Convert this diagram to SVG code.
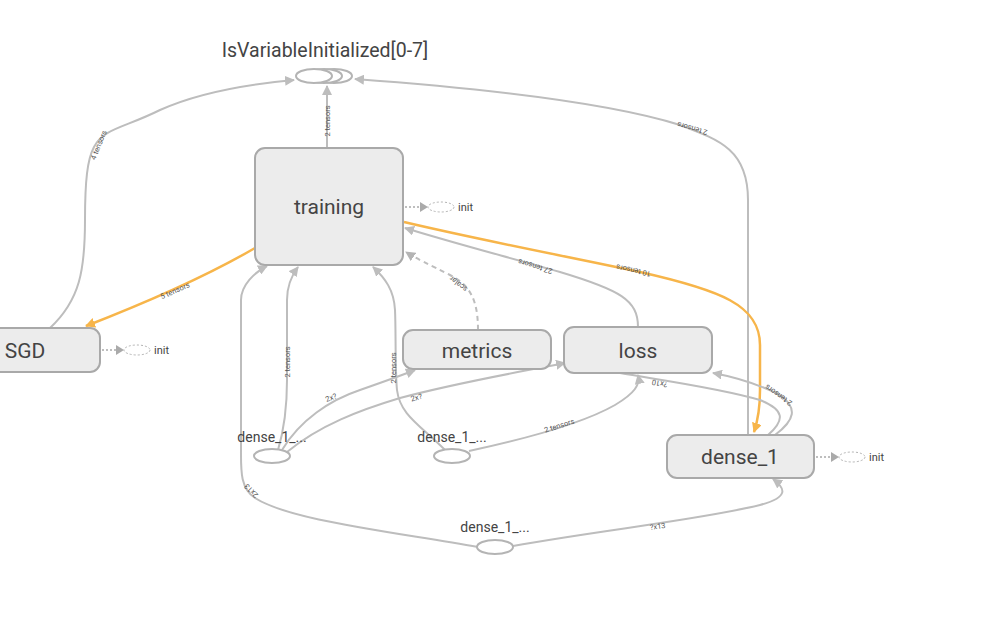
<svg xmlns="http://www.w3.org/2000/svg" width="990" height="639" viewBox="0 0 990 639">
  <style>
    .node rect { fill: #ececec; stroke: #a9a9a9; stroke-width: 2; }
    .title { font-family: Roboto, "Liberation Sans", sans-serif; font-size: 21px; fill: #444; text-anchor: middle; }
    .series { font-family: Roboto, "Liberation Sans", sans-serif; font-size: 19.5px; fill: #444; text-anchor: middle; }
    .small { font-family: Roboto, "Liberation Sans", sans-serif; font-size: 14px; fill: #444; text-anchor: middle; }
    .init { font-family: Roboto, "Liberation Sans", sans-serif; font-size: 11px; fill: #444; }
    .op { fill: #fff; stroke: #b4b4b4; stroke-width: 2; }
    .initop { fill: none; stroke: #b4b4b4; stroke-width: 1; stroke-dasharray: 2 2; }
    .dot { fill: none; stroke: #a9a9a9; stroke-width: 1.5; stroke-dasharray: 2 2; }
    .edge { fill: none; stroke: #bdbdbd; stroke-width: 2; }
    .ref { fill: none; stroke: #f7b54a; stroke-width: 2.5; }
    .ctl { fill: none; stroke: #bdbdbd; stroke-width: 2; stroke-dasharray: 5 4; }
    .lbl { font-family: Roboto, "Liberation Sans", sans-serif; font-size: 7.5px; fill: #555; text-anchor: middle; }
  </style>
  <defs>
    <marker id="arr" viewBox="0 0 10 10" refX="9" refY="5" markerWidth="5" markerHeight="5" markerUnits="strokeWidth" orient="auto">
      <path d="M0,0 L10,5 L0,10 z" fill="#bdbdbd"/>
    </marker>
    <marker id="arrO" viewBox="0 0 10 10" refX="9" refY="5" markerWidth="4" markerHeight="4" markerUnits="strokeWidth" orient="auto">
      <path d="M0,0 L10,5 L0,10 z" fill="#f7b54a"/>
    </marker>
    <marker id="arrS" viewBox="0 0 10 10" refX="9" refY="5" markerWidth="5" markerHeight="5" markerUnits="strokeWidth" orient="auto">
      <path d="M0,0 L10,5 L0,10 z" fill="#b4b4b4"/>
    </marker>
  </defs>

  <!-- connectors -->
  <g id="edges">
    <!-- SGD -> IsVariableInitialized -->
    <path class="edge" marker-end="url(#arr)" d="M50,328 C80,300 85,270 85,220 C85,120 100,140 160,110 C200,92 250,84 294,80"/>
    <!-- training -> IsVariableInitialized -->
    <path class="edge" marker-end="url(#arr)" d="M327,148 L327,86"/>
    <!-- dense_1 -> IsVariableInitialized -->
    <path class="edge" marker-end="url(#arr)" d="M748,435 L748,200 C748,150 720,140 680,125 C600,100 450,86 355,79"/>
    <!-- training -> SGD (reference) -->
    <path class="ref" marker-end="url(#arrO)" d="M255,248 C200,280 140,305 86,326"/>
    <!-- training -> dense_1 (reference) -->
    <path class="ref" marker-end="url(#arrO)" d="M404,222 C480,240 560,255 640,272 C720,290 760,305 760,345 L760,390 C760,410 758,420 754,432"/>
    <!-- loss -> training -->
    <path class="edge" marker-end="url(#arr)" d="M638,327 C638,300 620,290 560,272 C500,255 450,242 405,228"/>
    <!-- metrics -> training (control) -->
    <path class="ctl" marker-end="url(#arrS)" d="M478,330 C478,300 470,285 450,275 C430,265 415,258 406,252"/>
    <!-- dense_1_... (bottom) -> training -->
    <path class="edge" marker-end="url(#arr)" d="M478,547 C380,530 290,520 255,498 C240,488 241,470 241,450 L241,300 C241,285 255,272 267,266"/>
    <!-- dense_1_... (left) -> training -->
    <path class="edge" marker-end="url(#arr)" d="M278,450 C284,430 287,410 287,380 L287,300 C287,285 292,275 298,267"/>
    <!-- dense_1_... (middle) -> training -->
    <path class="edge" marker-end="url(#arr)" d="M445,450 C420,425 400,415 397,390 C395,370 396,330 395,310 C394,290 385,278 373,267"/>
    <!-- dense_1_... (left) -> metrics -->
    <path class="edge" marker-end="url(#arr)" d="M282,450 C300,420 330,400 360,390 C380,383 400,376 415,370"/>
    <!-- dense_1_... (left) -> loss -->
    <path class="edge" marker-end="url(#arr)" d="M287,452 C320,425 360,410 400,398 C460,382 520,372 565,363"/>
    <!-- dense_1_... (middle) -> loss -->
    <path class="edge" marker-end="url(#arr)" d="M469,451 C520,440 580,425 615,405 C635,393 640,385 638,375"/>
    <!-- loss -> dense_1 -->
    <path class="edge" d="M620,373 C660,380 720,388 760,400 C785,410 785,420 768,435"/>
    <!-- dense_1 -> loss -->
    <path class="edge" marker-end="url(#arr)" d="M775,435 C795,420 798,408 780,395 C760,385 740,378 713,373"/>
    <!-- dense_1_... (bottom) -> dense_1 -->
    <path class="edge" marker-end="url(#arr)" d="M513,546 C600,530 700,520 760,505 C790,497 785,488 773,479"/>

    <!-- edge labels -->
    <text class="lbl" transform="translate(101,146) rotate(-68)">4 tensors</text>
    <text class="lbl" transform="translate(330,121) rotate(-90)">2 tensors</text>
    <text class="lbl" transform="translate(693,126) rotate(196)">2 tensors</text>
    <text class="lbl" transform="translate(176,293) rotate(-24)">5 tensors</text>
    <text class="lbl" transform="translate(634,268) rotate(192)">10 tensors</text>
    <text class="lbl" transform="translate(536,264) rotate(197)">27 tensors</text>
    <text class="lbl" transform="translate(460,282) rotate(218)">scalar</text>
    <text class="lbl" transform="translate(290,362) rotate(-90)">2 tensors</text>
    <text class="lbl" transform="translate(396,368) rotate(-90)">2 tensors</text>
    <text class="lbl" transform="translate(332,400) rotate(-20)">2x?</text>
    <text class="lbl" transform="translate(417,400) rotate(-15)">2x?</text>
    <text class="lbl" transform="translate(560,428) rotate(-18)">2 tensors</text>
    <text class="lbl" transform="translate(660,381) rotate(190)">?x10</text>
    <text class="lbl" transform="translate(780,393) rotate(215)">2 tensors</text>
    <text class="lbl" transform="translate(658,529) rotate(-8)">?x13</text>
    <text class="lbl" transform="translate(253,489) rotate(225)">2x13</text>
  </g>

  <!-- IsVariableInitialized[0-7] (series of 8) -->
  <g id="isvarinit">
    <ellipse class="op" cx="334" cy="76" rx="18" ry="7"/>
    <ellipse class="op" cx="324" cy="76" rx="18" ry="7"/>
    <ellipse class="op" cx="314" cy="76" rx="18" ry="7"/>
    <text class="series" x="325" y="57">IsVariableInitialized[0-7]</text>
  </g>

  <g id="training" class="node">
    <rect x="255" y="148" width="148" height="117" rx="10"/>
    <text class="title" x="329" y="214">training</text>
    <path class="dot" d="M405,207 L420,207"/>
    <path d="M420,202 L428,207 L420,212 z" fill="#aaa"/>
    <ellipse class="initop" cx="441" cy="207" rx="13" ry="5"/>
    <text class="init" x="458" y="211">init</text>
  </g>

  <g id="sgd" class="node">
    <rect x="-12" y="328" width="112" height="44" rx="10"/>
    <text class="title" x="25" y="358">SGD</text>
    <path class="dot" d="M102,350 L116,350"/>
    <path d="M116,345 L124,350 L116,355 z" fill="#aaa"/>
    <ellipse class="initop" cx="137" cy="350" rx="13" ry="5"/>
    <text class="init" x="154" y="354">init</text>
  </g>

  <g id="metrics" class="node">
    <rect x="403" y="330" width="148" height="39" rx="10"/>
    <text class="title" x="477" y="358">metrics</text>
  </g>

  <g id="loss" class="node">
    <rect x="564" y="327" width="148" height="46" rx="10"/>
    <text class="title" x="638" y="358">loss</text>
  </g>

  <g id="dense_1" class="node">
    <rect x="667" y="435" width="147" height="43" rx="10"/>
    <text class="title" x="740" y="464">dense_1</text>
    <path class="dot" d="M816,457 L831,457"/>
    <path d="M831,452 L839,457 L831,462 z" fill="#aaa"/>
    <ellipse class="initop" cx="852" cy="457" rx="13" ry="5"/>
    <text class="init" x="869" y="461">init</text>
  </g>

  <g id="dense_1_a">
    <ellipse class="op" cx="272" cy="456" rx="18" ry="7"/>
    <text class="small" x="272" y="442">dense_1_...</text>
  </g>

  <g id="dense_1_b">
    <ellipse class="op" cx="452" cy="456" rx="18" ry="7"/>
    <text class="small" x="452" y="442">dense_1_...</text>
  </g>

  <g id="dense_1_c">
    <ellipse class="op" cx="495" cy="547" rx="18" ry="7"/>
    <text class="small" x="495" y="532">dense_1_...</text>
  </g>
</svg>
